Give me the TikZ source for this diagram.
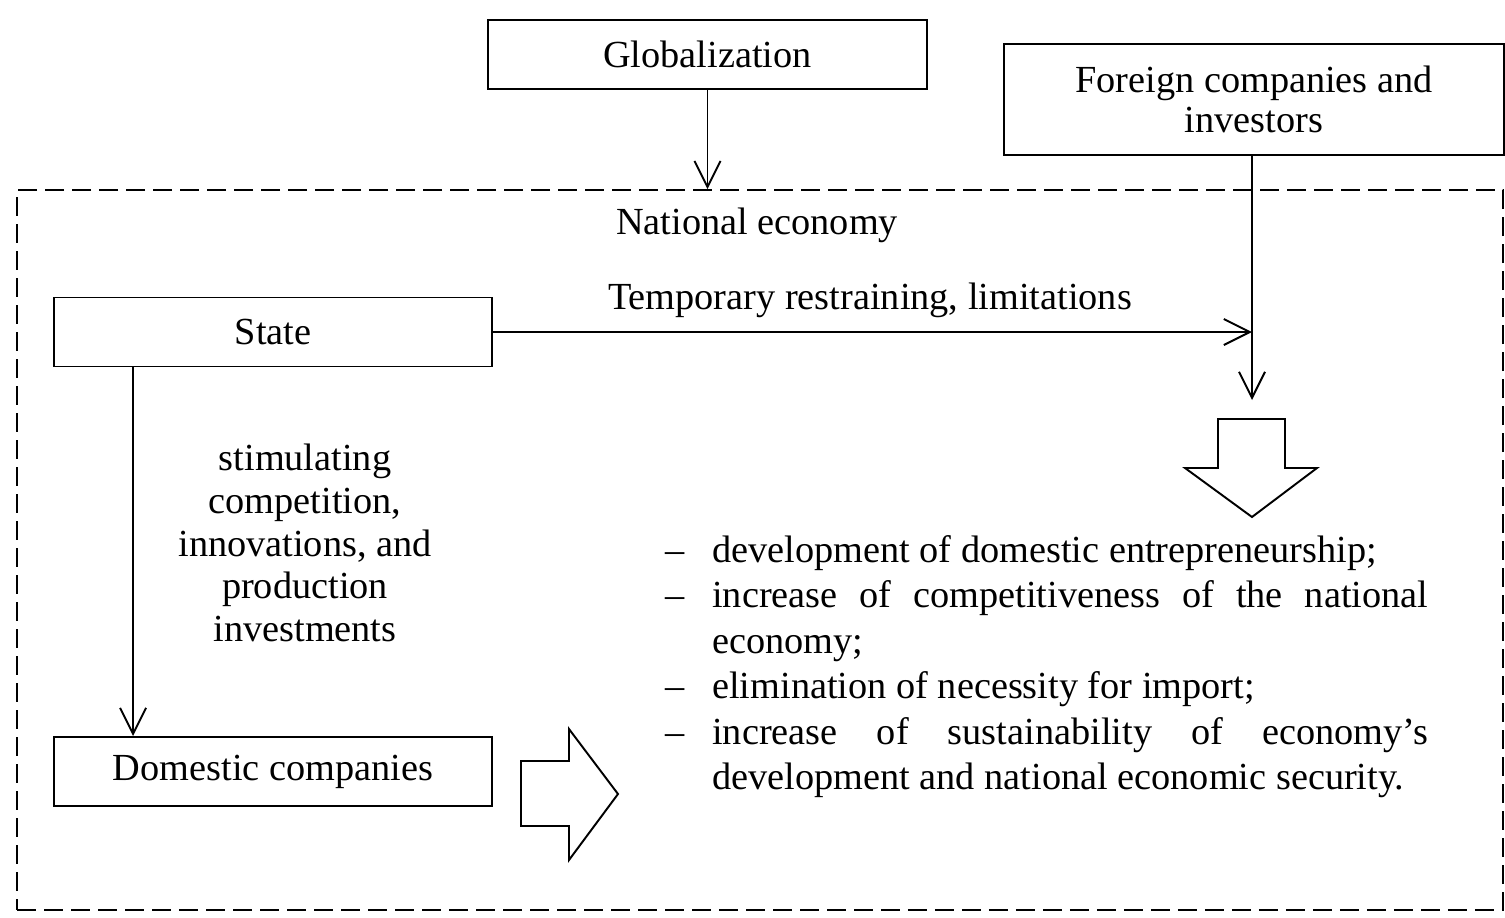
\documentclass[tikz,border=0pt]{standalone}
\usepackage{fontspec}
\setmainfont{Liberation Serif}
\usetikzlibrary{arrows.meta}
\begin{document}
\begin{tikzpicture}[x=0.02cm,y=-0.02cm,
  lw/.style={line width=1.1pt},
  box/.style={draw,lw,inner sep=0pt,align=center,font=\fontsize{21.8}{25}\selectfont},
  lbl/.style={inner sep=0pt,align=center,font=\fontsize{21.8}{25}\selectfont},
  arr/.style={lw,-{Straight Barb[length=14.8pt,width=14.8pt,line width=1.1pt]}},
  blk/.style={draw,lw,fill=white,line join=miter}]
\useasboundingbox (0,0) rectangle (1505,917);
% dashed frame
\node[draw,lw,dash pattern=on 0.38cm off 0.16cm,inner sep=0pt,minimum width=29.72cm,minimum height=14.4cm] (ne) at (760,550) {};
% boxes
\node[box,minimum width=8.78cm,minimum height=1.38cm] (glob) at (707.5,54.5) {Globalization};
\node[box,minimum width=10cm,minimum height=2.22cm,font=\fontsize{21.8}{22.7}\selectfont] (for) at (1254,99.5) {Foreign companies and\\investors};
\node[box,minimum width=8.76cm,minimum height=1.38cm] (state) at (273,332) {State};
\node[box,minimum width=8.76cm,minimum height=1.38cm] (dom) at (273,771.5) {Domestic companies};
% labels
\node[lbl] (nel) at (757,225) {National economy};
\node[lbl] (tmp) at (870,300) {Temporary restraining, limitations};
\node[lbl,font=\fontsize{21.8}{24.4}\selectfont] (stim) at (305,543) {stimulating\\competition,\\innovations, and\\production\\investments};
% coordinates
\coordinate (j) at (1252,332);
\coordinate (tipF) at (1252,400);
% connectors
\draw[arr] (glob.south) -- (glob.south |- ne.north);
\draw[arr] (state.east) -- (j);
\draw[arr] (for.south -| j) -- (tipF);
\draw[arr] ([xshift=1.6cm]state.south west) -- ([xshift=1.6cm]dom.north west);
% block arrows
\draw[blk] (1218,419) -- (1285,419) -- (1285,468) -- (1317,468) -- (1252,517) -- (1185,468) -- (1218,468) -- cycle;
\draw[blk] (521,761) -- (569,761) -- (569,729) -- (618,794) -- (569,860) -- (569,826) -- (521,826) -- cycle;
% bullet list
\node[inner sep=0pt,anchor=base west,text width=15.26cm,align=justify,font=\fontsize{21.8}{25.9}\selectfont] (list) at (665,562) {%
\setlength{\parindent}{0pt}%
\hangindent=0.94cm\hangafter=1\makebox[0.94cm][l]{–}development of domestic entrepreneurship;\par
\hangindent=0.94cm\hangafter=1\makebox[0.94cm][l]{–}increase of competitiveness of the national\linebreak economy;\par
\hangindent=0.94cm\hangafter=1\makebox[0.94cm][l]{–}elimination of necessity for import;\par
\hangindent=0.94cm\hangafter=1\makebox[0.94cm][l]{–}increase of sustainability of economy’s\linebreak development and national economic security.\par};
\end{tikzpicture}
\end{document}
